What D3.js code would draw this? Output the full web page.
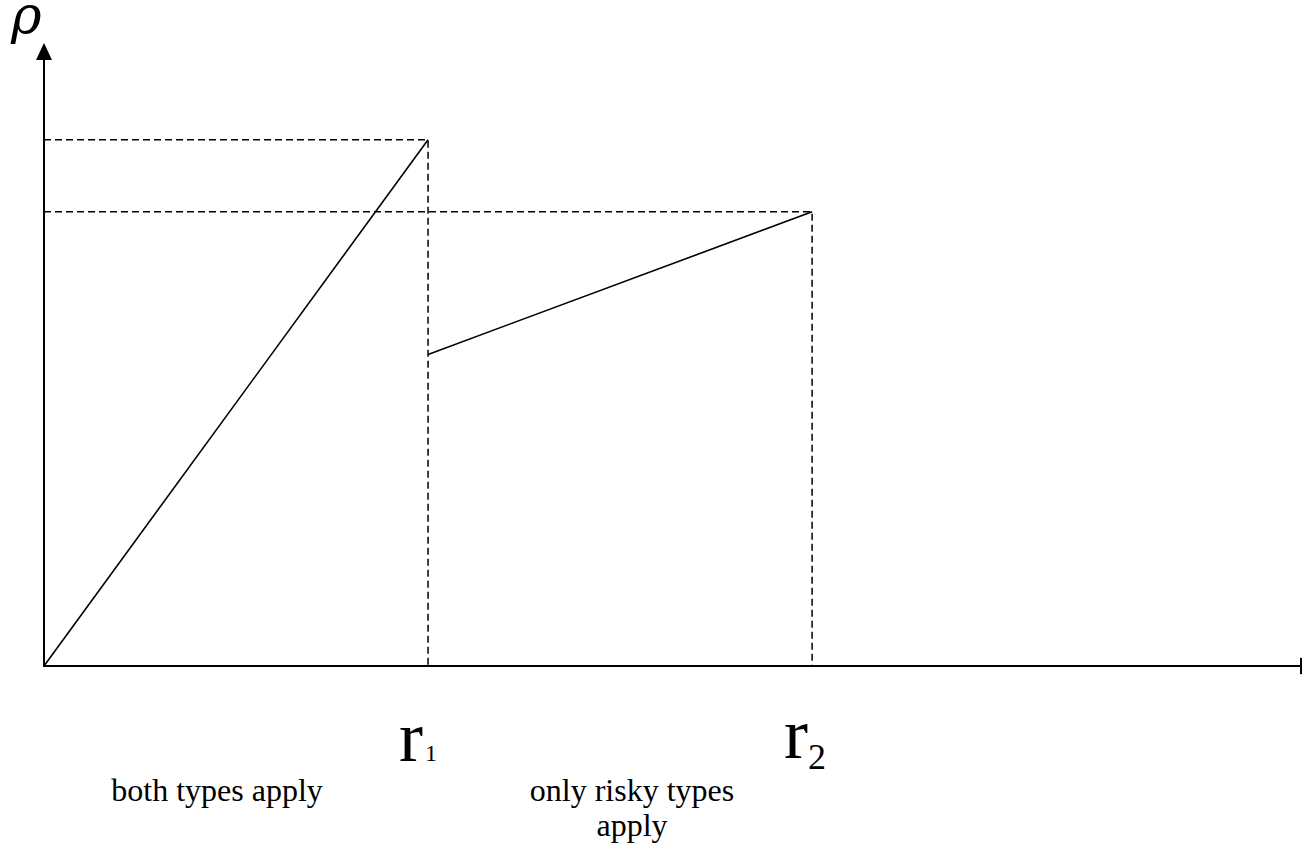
<!DOCTYPE html>
<html>
<head>
<meta charset="utf-8">
<script src="https://cdn.jsdelivr.net/npm/d3@7"></script>
<style>
  body { margin: 0; background: #fff; }
  text { font-family: "Liberation Serif", "Times New Roman", serif; fill: #000; }
</style>
</head>
<body>
<script>
// data: break points on the r axis and the rho values of each piece
const breaks = [0, 1, 2];          // origin, r1, r2
const rhoBoth = [0, 1.0];          // rho at 0 and at r1
const rhoRisky = [0.592, 0.863];   // rho just after r1 and at r2
const tickBase = ["r", "r"];
const tickSub = ["1", "2"];
const regionLabels = [["both types apply"], ["only risky types", "apply"]];

const W = 1302, H = 850;
const svg = d3.select("body").append("svg").attr("width", W).attr("height", H);

const x = d3.scaleLinear().domain([0, 3.273]).range([44, 1301]);
const y = d3.scaleLinear().domain([0, 1.18]).range([666, 45]);

// dashed guides
const guides = [
  { x: breaks[1], v: rhoBoth[1] },
  { x: breaks[2], v: rhoRisky[1] }
];
guides.forEach(g => {
  svg.append("path")
    .attr("d", `M${x(0)},${y(g.v)}H${x(g.x)}V${y(0)}`)
    .attr("fill", "none")
    .attr("stroke", "#000")
    .attr("stroke-width", 1.5)
    .attr("stroke-dasharray", "7,4");
});

// axes
svg.append("line").attr("x1", x(0)).attr("x2", x(0)).attr("y1", y(0) + 1).attr("y2", 56)
  .attr("stroke", "#000").attr("stroke-width", 2);
svg.append("line").attr("x1", x(0)).attr("x2", 1301).attr("y1", y(0)).attr("y2", y(0))
  .attr("stroke", "#000").attr("stroke-width", 2);
// arrow heads
svg.append("path").attr("d", `M${x(0)},43L${x(0) - 8},60L${x(0) + 8},60Z`).attr("fill", "#000");
svg.append("path").attr("d", `M1300.5,${y(0) - 8}L1318,${y(0)}L1300.5,${y(0) + 8}Z`)
  .attr("fill", "#000").attr("stroke", "#000").attr("stroke-width", 1);

// the two pieces of rho
const line = d3.line().x(d => x(d[0])).y(d => y(d[1]));
svg.append("path")
  .attr("d", line([[breaks[0], rhoBoth[0]], [breaks[1], rhoBoth[1]]]))
  .attr("fill", "none").attr("stroke", "#000").attr("stroke-width", 1.6);
svg.append("path")
  .attr("d", line([[breaks[1], rhoRisky[0]], [breaks[2], rhoRisky[1]]]))
  .attr("fill", "none").attr("stroke", "#000").attr("stroke-width", 1.6);

// axis label rho
svg.append("text").attr("x", 11).attr("y", 33)
  .style("font-family", "'DejaVu Serif', serif")
  .attr("font-size", 52).attr("font-style", "italic").text("ρ");

// r1, r2 ticks
const t1 = svg.append("text").attr("x", x(breaks[1]) - 29).attr("y", 761).attr("font-size", 72);
t1.append("tspan").text(tickBase[0]);
t1.append("tspan").attr("font-size", 24).attr("dx", 2).text(tickSub[0]);

const t2 = svg.append("text").attr("x", x(breaks[2]) - 28).attr("y", 758).attr("font-size", 72);
t2.append("tspan").text(tickBase[1]);
t2.append("tspan").attr("font-size", 36).attr("dy", 11).text(tickSub[1]);

// region labels
regionLabels.forEach((lines, i) => {
  const cx = i === 0 ? 217 : 632;
  lines.forEach((s, j) => {
    svg.append("text").attr("x", cx).attr("y", 801 + j * 35)
      .attr("text-anchor", "middle").attr("font-size", 32).text(s);
  });
});
</script>
</body>
</html>
